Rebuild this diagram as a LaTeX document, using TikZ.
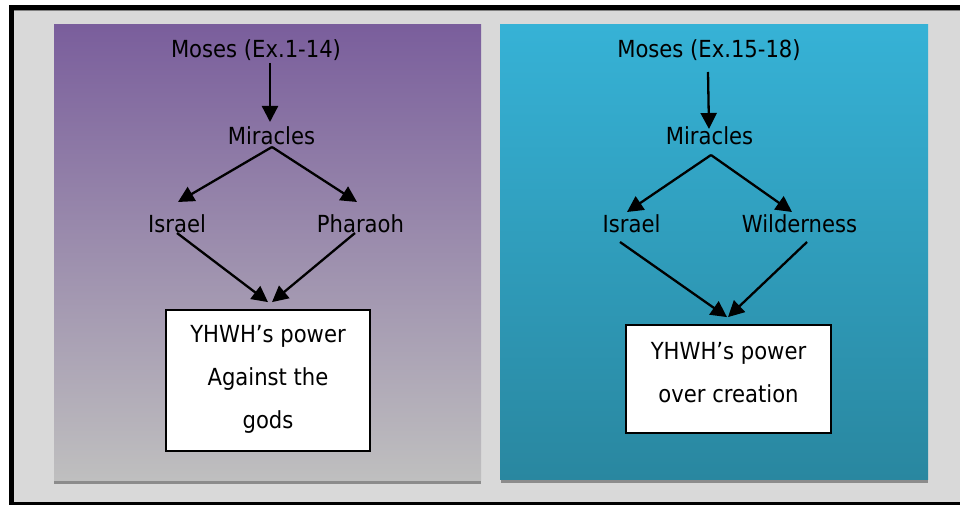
\documentclass[tikz,border=0pt]{standalone}
\usepackage{fontspec}
\setmainfont{DejaVu Sans Condensed}
\usetikzlibrary{arrows.meta}
\definecolor{framegray}{HTML}{D9D9D9}
\definecolor{edgegray}{HTML}{808080}
\definecolor{shadowgray}{HTML}{8C8C8C}
\definecolor{plumtop}{HTML}{7A5E9C}
\definecolor{plumbot}{HTML}{BFBFBF}
\definecolor{tealtop}{HTML}{36B2D6}
\definecolor{tealbot}{HTML}{2987A0}

\begin{document}
\begin{tikzpicture}[x=1pt,y=-1pt,
  lbl/.style={font=\fontsize{23.5}{28}\selectfont, inner sep=0pt, anchor=base},
  goal/.style={draw=black, line width=1.8pt, fill=white, inner sep=0pt},
  goaltext/.style={font=\fontsize{23.5}{43}\selectfont, align=center, inner sep=0pt, anchor=north},
  link/.style={line width=2.3pt, -{Triangle[length=16pt,width=16pt]}}]
\useasboundingbox (0,0) rectangle (960,505);
% page and frame (open on the right)
\fill[white] (0,0) rectangle (960,505);
\fill[black] (9,5) rectangle (980,510);
\fill[framegray] (14,10) rectangle (980,502);
\fill[edgegray] (14,10) rectangle (980,11);

% panels with their drop strips
\fill[shadowgray] (54,480) rectangle (481,484);
\shade[top color=plumtop, bottom color=plumbot] (54,25) rectangle (481,480);
\fill[shadowgray] (501,479) rectangle (928,483);
\shade[top color=tealtop, bottom color=tealbot] (500,25) rectangle (928,479);

% Exodus 1-14
\node[lbl] (mosesA) at (256,58) {Moses (Ex.1-14)};
\node[lbl] (miracA) at (271.5,145) {Miracles};
\node[lbl] (israelA) at (177,232) {Israel};
\node[lbl] (pharaoh) at (360.5,232) {Pharaoh};
\node[goal, minimum width=204pt, minimum height=141pt] (goalA) at (268,380.5) {};
\node[goaltext] (goalAtext) at (268,325) {YHWH’s power\\Against the\\gods};

\draw[link] ([shift={(14,5)}]mosesA.base) -- ([shift={(-1.5,-23)}]miracA.base);
\draw[link] ([shift={(0.5,2)}]miracA.base) -- ([shift={(1,-30)}]israelA.base);
\draw[link] ([shift={(0.5,2)}]miracA.base) -- ([shift={(-3.5,-30)}]pharaoh.base);
\draw[link] ([shift={(0,1)}]israelA.base) -- ([shift={(0,-7)}]goalA.north);
\draw[link] ([shift={(-5.5,1)}]pharaoh.base) -- ([shift={(4,-7)}]goalA.north);

% Exodus 15-18
\node[lbl] (mosesB) at (709,58) {Moses (Ex.15-18)};
\node[lbl] (miracB) at (709.5,145) {Miracles};
\node[lbl] (israelB) at (631.5,232) {Israel};
\node[lbl] (wild) at (799.5,232) {Wilderness};
\node[goal, minimum width=205pt, minimum height=108pt] (goalB) at (728.5,379) {};
\node[goaltext] (goalBtext) at (728.5,342) {YHWH’s power\\over creation};

\draw[link] ([shift={(-1,14)}]mosesB.base) -- ([shift={(-0.5,-16)}]miracB.base);
\draw[link] ([shift={(1.5,10)}]miracB.base) -- ([shift={(-4.5,-20)}]israelB.base);
\draw[link] ([shift={(1.5,10)}]miracB.base) -- ([shift={(-7.5,-20)}]wild.base);
\draw[link] ([shift={(-11.5,10)}]israelB.base) -- ([shift={(-1.5,-7)}]goalB.north);
\draw[link] ([shift={(7.5,10)}]wild.base) -- ([shift={(-0.5,-7)}]goalB.north);
\end{tikzpicture}
\end{document}
